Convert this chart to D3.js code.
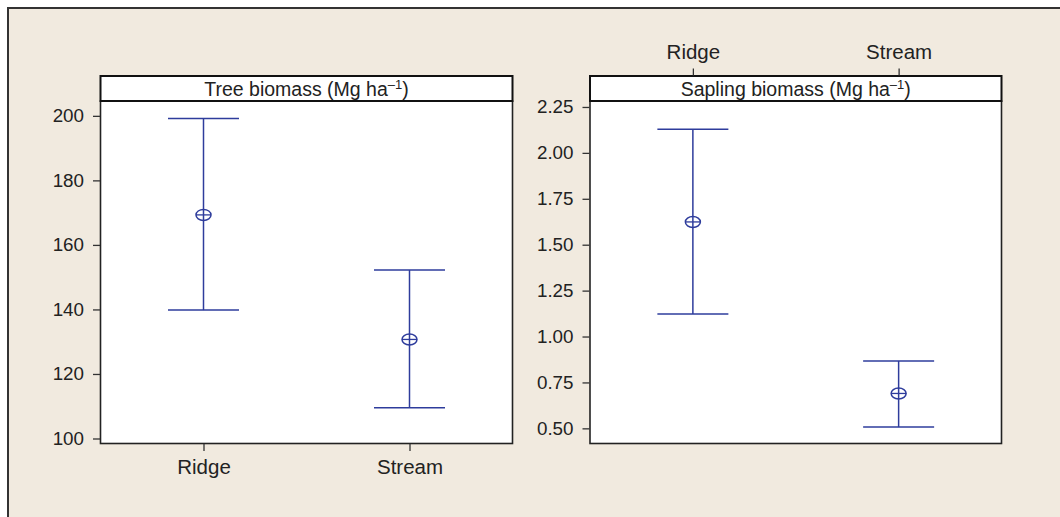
<!DOCTYPE html>
<html>
<head>
<meta charset="utf-8">
<script src="https://cdn.jsdelivr.net/npm/d3@7"></script>
<style>
  html, body { margin: 0; padding: 0; background: #ffffff; }
  svg { display: block; }
  text { font-family: "Liberation Sans", Arial, sans-serif; fill: #222; }
</style>
</head>
<body>
<svg id="chart" width="1060" height="517"></svg>
<script>
// ---- data ----
const categories = ["Ridge", "Stream"];
const treeMean   = [169.3, 130.7];
const treeLower  = [139.8, 109.5];
const treeUpper  = [199.2, 152.2];
const saplingMean  = [1.624, 0.690];
const saplingLower = [1.122, 0.507];
const saplingUpper = [2.128, 0.867];
const treeTicks    = [100, 120, 140, 160, 180, 200];
const saplingTicks = [0.50, 0.75, 1.00, 1.25, 1.50, 1.75, 2.00, 2.25];
const treeTitle    = "Tree biomass (Mg ha";
const saplingTitle = "Sapling biomass (Mg ha";

// ---- layout ----
const svg = d3.select("#chart");
const bg = "#F1EADF";
const blue = "#2E3C9C";
const headerTop = 76, plotTop = 101, plotBottom = 443.5;

// outer frame
svg.append("rect").attr("x", 8).attr("y", 8).attr("width", 1070).attr("height", 530)
  .attr("fill", bg).attr("stroke", "#333").attr("stroke-width", 2);

const panels = [
  { x0: 100.5, x1: 512.5, title: treeTitle, mean: treeMean, lo: treeLower, hi: treeUpper,
    ticks: treeTicks, fmt: d3.format("d"), dom: [98.45, 204.6], xAxis: "bottom" },
  { x0: 590, x1: 1001.5, title: saplingTitle, mean: saplingMean, lo: saplingLower, hi: saplingUpper,
    ticks: saplingTicks, fmt: d3.format(".2f"), dom: [0.4175, 2.2825], xAxis: "top" }
];

panels.forEach(p => {
  const g = svg.append("g");
  const x = d3.scalePoint().domain(categories).range([p.x0, p.x1]).padding(0.5);
  const y = d3.scaleLinear().domain(p.dom).range([plotBottom, plotTop]);

  // plot area
  g.append("rect").attr("x", p.x0).attr("y", plotTop)
    .attr("width", p.x1 - p.x0).attr("height", plotBottom - plotTop)
    .attr("fill", "#fff").attr("stroke", "#222").attr("stroke-width", 1.6);

  // header strip
  g.append("rect").attr("x", p.x0).attr("y", headerTop)
    .attr("width", p.x1 - p.x0).attr("height", plotTop - headerTop)
    .attr("fill", "#fff").attr("stroke", "#111").attr("stroke-width", 2);
  const t = g.append("text").attr("x", (p.x0 + p.x1) / 2).attr("y", 96)
    .attr("text-anchor", "middle").attr("font-size", 19.5);
  t.append("tspan").text(p.title);
  t.append("tspan").attr("font-size", 13).attr("dy", -7).text("\u20131");
  t.append("tspan").attr("dy", 7).text(")");

  // y axis
  const yAxis = d3.axisLeft(y).tickValues(p.ticks).tickFormat(p.fmt).tickSize(7).tickPadding(9);
  const ya = g.append("g").attr("transform", `translate(${p.x0 - 0.5},0)`).call(yAxis);
  ya.select(".domain").remove();
  ya.selectAll(".tick line").attr("stroke", "#333").attr("stroke-width", 1.3);
  ya.selectAll(".tick text").attr("font-size", 18.8).attr("fill", "#222")
    .attr("font-family", "Liberation Sans, Arial, sans-serif");

  // x axis
  if (p.xAxis === "bottom") {
    const xa = g.append("g").attr("transform", `translate(0,${plotBottom + 0.5})`)
      .call(d3.axisBottom(x).tickSize(7).tickPadding(8));
    xa.select(".domain").remove();
    xa.selectAll(".tick line").attr("stroke", "#333").attr("stroke-width", 1.3);
    xa.selectAll(".tick text").attr("font-size", 20.5).attr("fill", "#222")
      .attr("font-family", "Liberation Sans, Arial, sans-serif");
  } else {
    const xa = g.append("g").attr("transform", `translate(0,${headerTop - 0.5})`)
      .call(d3.axisTop(x).tickSize(7).tickPadding(10));
    xa.select(".domain").remove();
    xa.selectAll(".tick line").attr("stroke", "#333").attr("stroke-width", 1.3);
    xa.selectAll(".tick text").attr("font-size", 20.5).attr("fill", "#222")
      .attr("font-family", "Liberation Sans, Arial, sans-serif");
  }

  // error bars
  const capHalf = 35.5;
  categories.forEach((c, i) => {
    const cx = x(c);
    g.append("line").attr("x1", cx).attr("x2", cx).attr("y1", y(p.hi[i])).attr("y2", y(p.lo[i]))
      .attr("stroke", blue).attr("stroke-width", 1.5);
    [p.hi[i], p.lo[i]].forEach(v => {
      g.append("line").attr("x1", cx - capHalf).attr("x2", cx + capHalf)
        .attr("y1", y(v)).attr("y2", y(v)).attr("stroke", blue).attr("stroke-width", 1.5);
    });
    g.append("ellipse").attr("cx", cx).attr("cy", y(p.mean[i])).attr("rx", 7.5).attr("ry", 5.5)
      .attr("fill", "none").attr("stroke", blue).attr("stroke-width", 1.5);
    g.append("line").attr("x1", cx - 7.5).attr("x2", cx + 7.5)
      .attr("y1", y(p.mean[i])).attr("y2", y(p.mean[i])).attr("stroke", blue).attr("stroke-width", 1.3);
  });
});
</script>
</body>
</html>
